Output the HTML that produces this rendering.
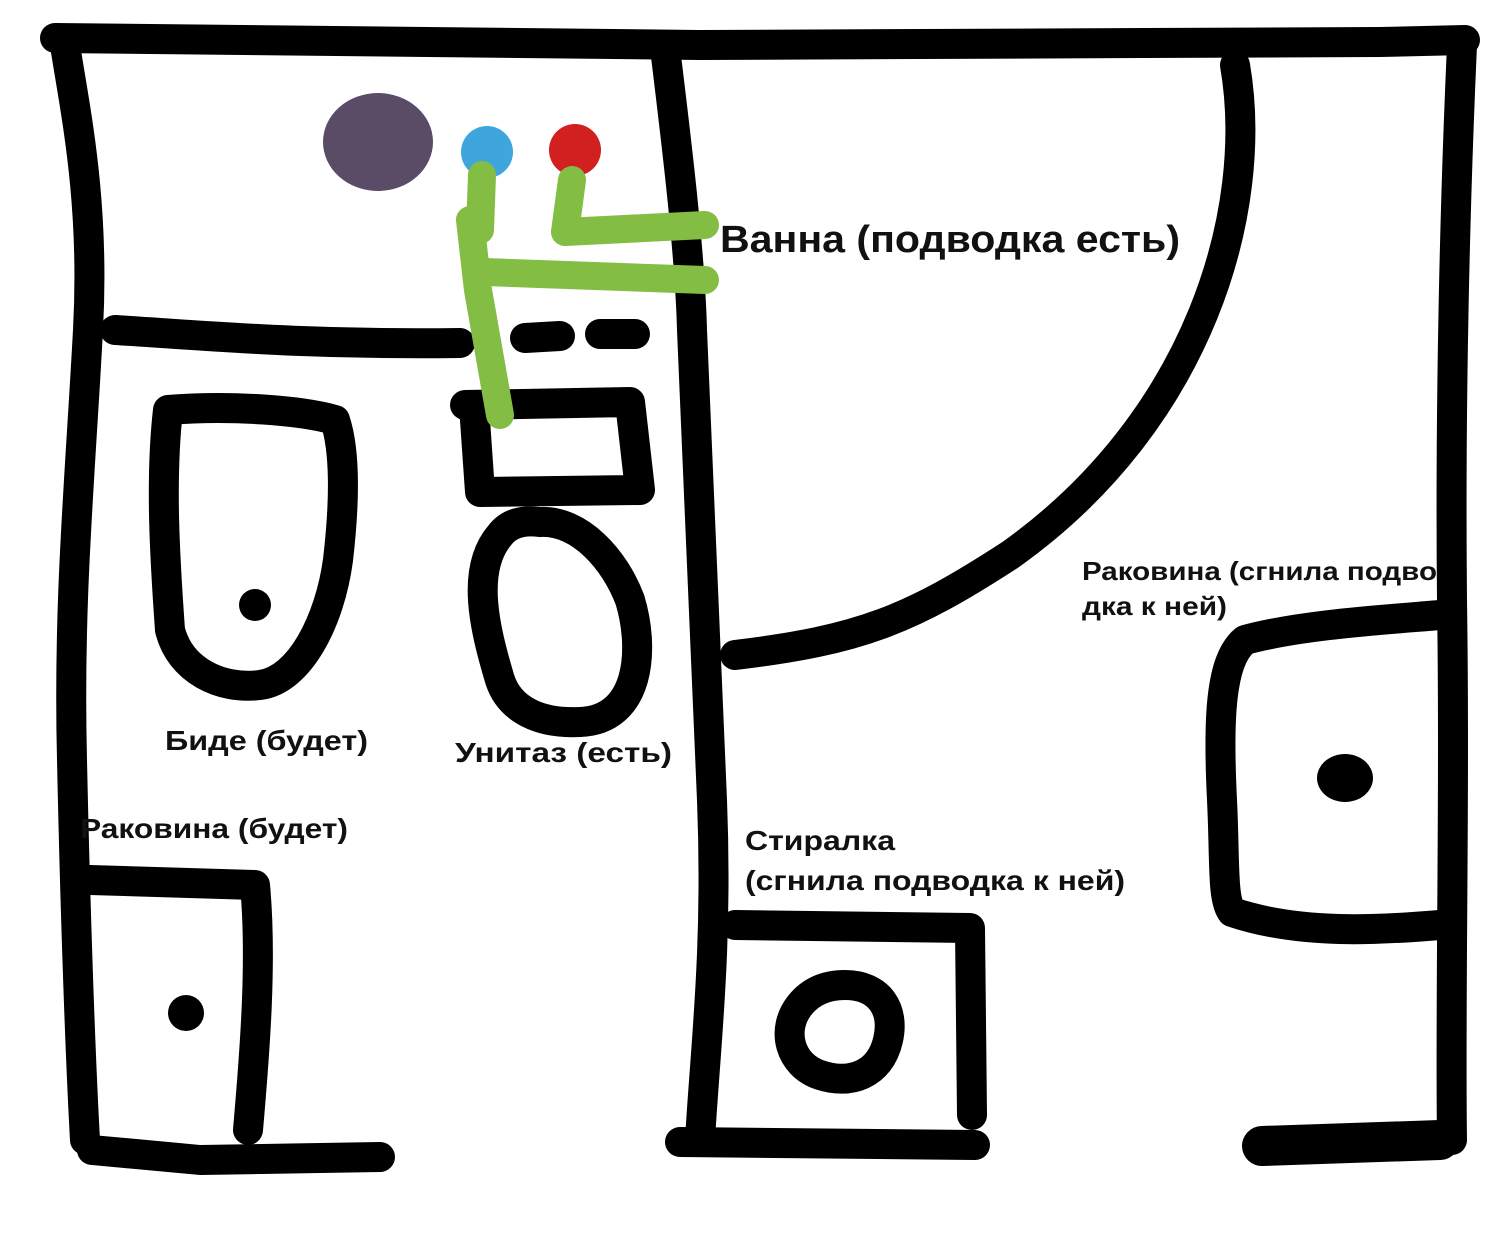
<!DOCTYPE html>
<html><head><meta charset="utf-8"><style>
html,body{margin:0;padding:0;background:#fff;}
svg{display:block}
text{font-family:"Liberation Sans","DejaVu Sans",sans-serif;fill:#111;font-weight:bold;}
</style></head><body>
<svg width="1500" height="1257" viewBox="0 0 1500 1257" xmlns="http://www.w3.org/2000/svg">
<g fill="none" stroke="#000" stroke-width="30" stroke-linecap="round" stroke-linejoin="round">
<path d="M55,38 L700,45 L1380,42 L1465,40"/>
<path d="M65,45 C75,110 95,200 88,330 C80,480 68,600 72,760 C75,900 80,1050 85,1140"/>
<path d="M92,1150 L200,1160 L380,1157"/>
<path d="M665,48 C675,130 690,250 692,330 C700,500 705,650 712,800 C718,950 705,1050 700,1140"/>
<path d="M1462,45 C1455,200 1450,400 1452,600 C1455,800 1450,1000 1452,1140"/>
<path d="M680,1142 L975,1145"/>
<path d="M1262,1146 L1440,1140" stroke-width="40"/>
<path d="M1235,65 C1260,210 1200,420 1010,555 C910,620 860,640 735,655"/>
<path d="M115,330 C200,335 300,345 460,343"/>
<path d="M525,338 L560,336"/>
<path d="M600,334 L635,334"/>
<path d="M465,405 L630,402 L640,490 L480,492 L475,420"/>
<path d="M540,522 C580,520 615,560 630,600 C645,650 640,720 580,722 C540,724 510,710 500,680 C485,630 470,570 500,535 C510,522 525,520 540,522 Z"/>
<path d="M168,410 C160,480 165,560 170,630 C180,670 220,690 260,685 C300,680 330,620 338,560 C345,500 345,450 335,420 C300,410 230,405 168,410"/>
<path d="M90,880 L255,885 C262,960 255,1050 248,1130"/>
<path d="M735,925 L970,928 L972,1115"/>
<path d="M845,985 C880,985 895,1010 888,1040 C880,1075 850,1085 820,1075 C790,1065 780,1030 800,1005 C812,990 828,985 845,985 Z"/>
<path d="M1440,615 C1380,620 1300,625 1245,640 C1220,660 1218,720 1222,800 C1225,860 1222,900 1232,912 C1300,935 1380,930 1440,925"/>
</g>
<circle cx="255" cy="605" r="16" fill="#000"/>
<circle cx="186" cy="1013" r="18" fill="#000"/>
<ellipse cx="1345" cy="778" rx="28" ry="24" fill="#000"/>
<ellipse cx="378" cy="142" rx="55" ry="49" fill="#5a4b66"/>
<circle cx="487" cy="152" r="26" fill="#3fa6dd"/>
<circle cx="575" cy="150" r="26" fill="#d21f1f"/>
<g fill="none" stroke="#83bd43" stroke-width="28" stroke-linecap="round" stroke-linejoin="round">
<path d="M482,175 L480,230 L470,220 L478,290 L500,415"/>
<path d="M485,272 L705,280"/>
<path d="M572,180 L565,232 L705,225"/>
</g>
<text x="720" y="252" font-size="38" textLength="460" lengthAdjust="spacingAndGlyphs">Ванна (подводка есть)</text>
<text x="1082" y="580" font-size="26" textLength="355" lengthAdjust="spacingAndGlyphs">Раковина (сгнила подво</text>
<text x="1082" y="615" font-size="26" textLength="145" lengthAdjust="spacingAndGlyphs">дка к ней)</text>
<text x="165" y="750" font-size="28" textLength="203" lengthAdjust="spacingAndGlyphs">Биде (будет)</text>
<text x="455" y="762" font-size="28" textLength="217" lengthAdjust="spacingAndGlyphs">Унитаз (есть)</text>
<text x="80" y="838" font-size="28" textLength="268" lengthAdjust="spacingAndGlyphs">Раковина (будет)</text>
<text x="745" y="850" font-size="28" textLength="150" lengthAdjust="spacingAndGlyphs">Стиралка</text>
<text x="745" y="890" font-size="28" textLength="380" lengthAdjust="spacingAndGlyphs">(сгнила подводка к ней)</text>
</svg>
</body></html>
